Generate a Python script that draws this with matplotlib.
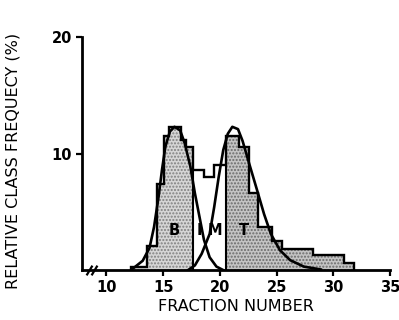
import numpy as np
import matplotlib
matplotlib.use('Agg')
import matplotlib.pyplot as plt

plt.rcParams['font.family'] = ['DejaVu Sans']

# histogram (fraction number edges, % per class)
edges = [12.2, 13.6, 14.5, 15.1, 15.5, 16.6, 17.05, 17.6, 18.6, 19.5, 20.5,
         21.7, 22.6, 23.4, 24.6, 25.5, 28.2, 30.9, 31.8]
heights = [0.3, 2.1, 7.4, 11.5, 12.3, 11.2, 10.6, 8.6, 8.0, 9.0, 11.5,
           10.6, 6.6, 3.7, 2.5, 1.8, 1.3, 0.6]

# fitted curves, points
b_x = [12.3, 13.2, 13.8, 14.2, 14.6, 14.9, 15.2, 15.6, 16.0, 16.5, 16.9,
       17.4, 17.8, 18.2, 18.6, 19.1, 19.7, 20.3]
b_y = [0.1, 0.8, 1.9, 3.7, 6.3, 8.6, 10.6, 11.9, 12.3, 12.0, 10.9,
       8.9, 6.6, 4.6, 2.6, 1.1, 0.3, 0.0]
t_x = [17.2, 17.8, 18.4, 19.1, 19.5, 19.9, 20.3, 20.7, 21.1, 21.6, 22.0,
       22.6, 23.3, 23.9, 24.5, 25.3, 26.2, 27.4, 28.9]
t_y = [0.0, 0.4, 1.4, 3.1, 5.4, 8.0, 10.3, 11.7, 12.3, 12.1, 11.1,
       9.1, 6.8, 4.8, 3.1, 1.7, 0.85, 0.3, 0.05]

# class boundaries B | IM | T
b_end = 7    # edge index of 17.6
t_start = 10  # edge index of 20.5

labels = ['B', 'I', 'M', 'T']
label_x = [16.0, 18.2, 19.6, 22.1]
label_y = 3.4

fig = plt.figure(figsize=(3.99, 3.2), dpi=100)
ax = fig.add_axes([0.2055, 0.156, 0.772, 0.728])

ax.stairs(heights[:b_end], edges[:b_end + 1], fill=True, facecolor='#d6d6d6',
          edgecolor='#808080', hatch='.....', linewidth=0)
ax.stairs(heights[t_start:], edges[t_start:], fill=True, facecolor='#c4c4c4',
          edgecolor='#6a6a6a', hatch='.....', linewidth=0)

ax.stairs(heights, edges, color='black', linewidth=1.7)
ax.vlines([edges[b_end], edges[t_start]], 0, [heights[b_end], heights[t_start - 1]],
          color='black', linewidth=1.5)

ax.plot(b_x, b_y, color='black', linewidth=1.9, solid_joinstyle='round')
ax.plot(t_x, t_y, color='black', linewidth=1.9, solid_joinstyle='round')

for lab, lx in zip(labels, label_x):
    ax.text(lx, label_y, lab, ha='center', va='center', fontsize=10.5, fontweight='bold')

ax.set_xlim(7.85, 35)
ax.set_ylim(0, 20)
ax.set_xticks([10, 15, 20, 25, 30, 35])
ax.set_yticks([10, 20])
ax.spines['top'].set_visible(False)
ax.spines['right'].set_visible(False)
for s in ['left', 'bottom']:
    ax.spines[s].set_linewidth(2)
ax.tick_params(axis='both', width=1.6, length=4, labelsize=10.5, pad=3)
for t in ax.get_xticklabels() + ax.get_yticklabels():
    t.set_fontweight('bold')

# axis break marks
ax.plot([8.5, 8.95], [0, 0], marker=[(-0.6, -1), (0.6, 1)], markersize=7,
        markeredgewidth=1.6, linestyle='none', color='black', clip_on=False)

ax.set_xlabel('FRACTION NUMBER', fontsize=11.5, labelpad=3)
ax.set_ylabel('RELATIVE CLASS FREQUECY (%)', fontsize=11.5)
ax.yaxis.set_label_coords(-0.2, 0.47)

fig.savefig('out.png', dpi=100)
